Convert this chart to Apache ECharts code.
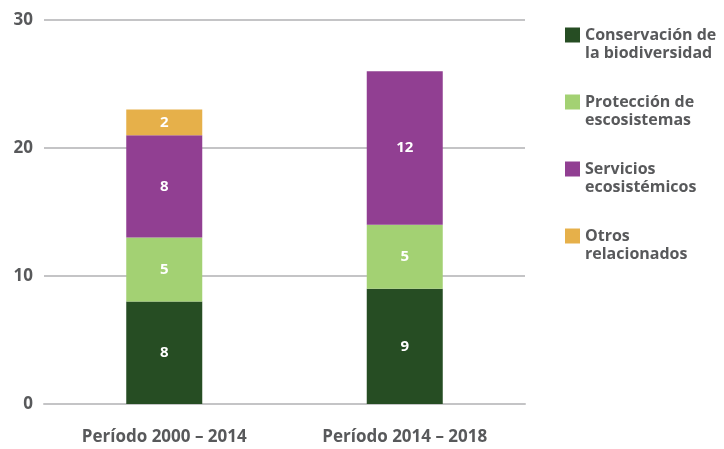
<!DOCTYPE html>
<html>
<head>
<meta charset="utf-8">
<script src="https://cdn.jsdelivr.net/npm/echarts@6/dist/echarts.min.js"></script>
<style>
  html, body { margin: 0; padding: 0; background: #fff; }
  #chart { width: 724px; height: 449px; }
</style>
</head>
<body>
<div id="chart"></div>
<script>
// Periods on the horizontal axis
const periods = ['Período 2000 – 2014', 'Período 2014 – 2018'];

// Values per category, one entry per period
const conservacion = [8, 9];
const proteccion = [5, 5];
const servicios = [8, 12];
const otros = [2, null];

const seriesNames = [
  'Conservación de\nla biodiversidad',
  'Protección de\nescosistemas',
  'Servicios\necosistémicos',
  'Otros\nrelacionados'
];
const seriesData = [conservacion, proteccion, servicios, otros];
const colors = ['#264d23', '#a3d173', '#913f92', '#e6b04a'];

const textGray = '#58595b';
const font = '"Open Sans", "Noto Sans", sans-serif';

const chart = echarts.init(document.getElementById('chart'), null, { renderer: 'canvas' });

chart.setOption({
  animation: false,
  color: colors,
  grid: { left: 44, right: 199, top: 20, bottom: 45 },
  legend: {
    orient: 'vertical',
    left: 565,
    top: 8,
    padding: 0,
    itemWidth: 15,
    itemHeight: 15,
    itemGap: 13,
    icon: 'rect',
    selectedMode: false,
    // a leading blank line keeps the swatch level with the first text line
    formatter: (name) => ' \n' + name,
    textStyle: {
      color: textGray,
      fontFamily: font,
      fontWeight: 'bold',
      fontSize: 16,
      lineHeight: 18
    },
    data: seriesNames
  },
  xAxis: {
    type: 'category',
    data: periods,
    axisLine: { lineStyle: { color: '#c4c4c6', width: 2 } },
    axisTick: { show: false },
    axisLabel: {
      color: textGray,
      fontFamily: font,
      fontWeight: 'bold',
      fontSize: 17,
      margin: 25
    }
  },
  yAxis: {
    type: 'value',
    min: 0,
    max: 30,
    interval: 10,
    axisLine: { show: false },
    axisTick: { show: false },
    splitLine: { lineStyle: { color: '#c4c4c6', width: 2 } },
    axisLabel: {
      color: textGray,
      fontFamily: font,
      fontWeight: 'bold',
      fontSize: 17,
      margin: 11
    }
  },
  series: seriesNames.map((name, i) => ({
    name: name,
    type: 'bar',
    stack: 'total',
    barWidth: 76,
    data: seriesData[i],
    label: {
      show: true,
      position: 'inside',
      color: '#fff',
      fontFamily: font,
      fontWeight: 'bold',
      fontSize: 15
    }
  }))
});
</script>
</body>
</html>
